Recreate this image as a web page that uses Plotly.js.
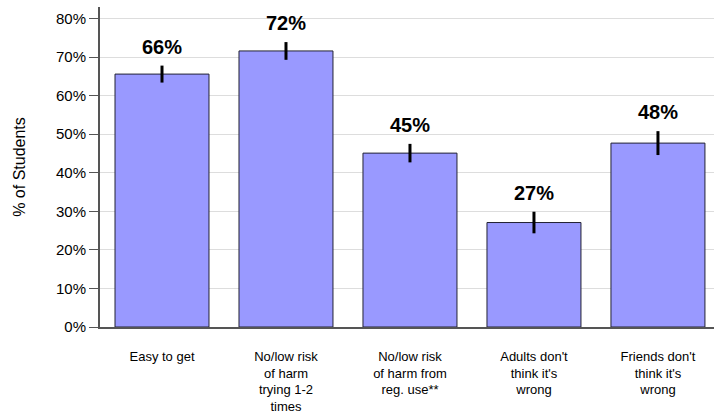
<!DOCTYPE html>
<html>
<head>
<meta charset="utf-8">
<script src="https://cdn.plot.ly/plotly-3.0.1.min.js"></script>
<style>html,body{margin:0;padding:0;background:#fff;}#chart{width:714px;height:414px;}</style>
</head>
<body>
<div id="chart"></div>
<script>
const categories = [
  "Easy to get",
  "No/low risk<br>of harm<br>trying 1-2<br>times",
  "No/low risk<br>of harm from<br>reg. use**",
  "Adults don't<br>think it's<br>wrong",
  "Friends don't<br>think it's<br>wrong"
];
const values = [65.6, 71.6, 45.1, 27.1, 47.7];
const errors = [2.2, 2.3, 2.4, 2.8, 3.1];
const labels = ["66%", "72%", "45%", "27%", "48%"];
const yTickVals = [0, 10, 20, 30, 40, 50, 60, 70, 80];
const yTickText = ["0%", "10%", "20%", "30%", "40%", "50%", "60%", "70%", "80%"];

const trace = {
  type: 'bar',
  x: categories,
  y: values,
  width: 0.758,
  marker: {color: '#9999ff', line: {color: '#222233', width: 1}},
  error_y: {type: 'data', array: errors, visible: true, color: '#000000', thickness: 3, width: 0},
  hoverinfo: 'none'
};

const annotations = categories.map((c, i) => ({
  x: c, y: values[i] + errors[i], xref: 'x', yref: 'y',
  text: '<b>' + labels[i] + '</b>', showarrow: false,
  yanchor: 'middle', yshift: 19,
  font: {family: 'Arial, Liberation Sans, sans-serif', size: 20, color: '#000'}
}));

const layout = {
  width: 714, height: 414,
  margin: {l: 100, r: 0, t: 7, b: 87},
  paper_bgcolor: '#ffffff', plot_bgcolor: '#ffffff',
  showlegend: false,
  font: {family: 'Arial, Liberation Sans, sans-serif', size: 13, color: '#000'},
  xaxis: {
    type: 'category',
    range: [-0.5, 4.452],
    showline: true, linecolor: '#555555', linewidth: 2,
    ticks: 'outside', ticklen: 16, tickcolor: 'rgba(0,0,0,0)',
    showgrid: false, zeroline: false,
    tickfont: {size: 13, color: '#000'},
    fixedrange: true
  },
  yaxis: {
    range: [0, 83],
    tickvals: yTickVals, ticktext: yTickText,
    showline: true, linecolor: '#555555', linewidth: 2,
    ticks: 'outside', ticklen: 9, tickcolor: '#555555', tickwidth: 1,
    showgrid: true, gridcolor: '#dddddd', gridwidth: 1,
    zeroline: false,
    tickfont: {size: 15, color: '#000'},
    title: {text: '% of Students', font: {size: 16, color: '#000'}, standoff: 26},
    fixedrange: true
  },
  annotations: annotations
};

Plotly.newPlot('chart', [trace], layout, {displayModeBar: false, staticPlot: true});
</script>
</body>
</html>
